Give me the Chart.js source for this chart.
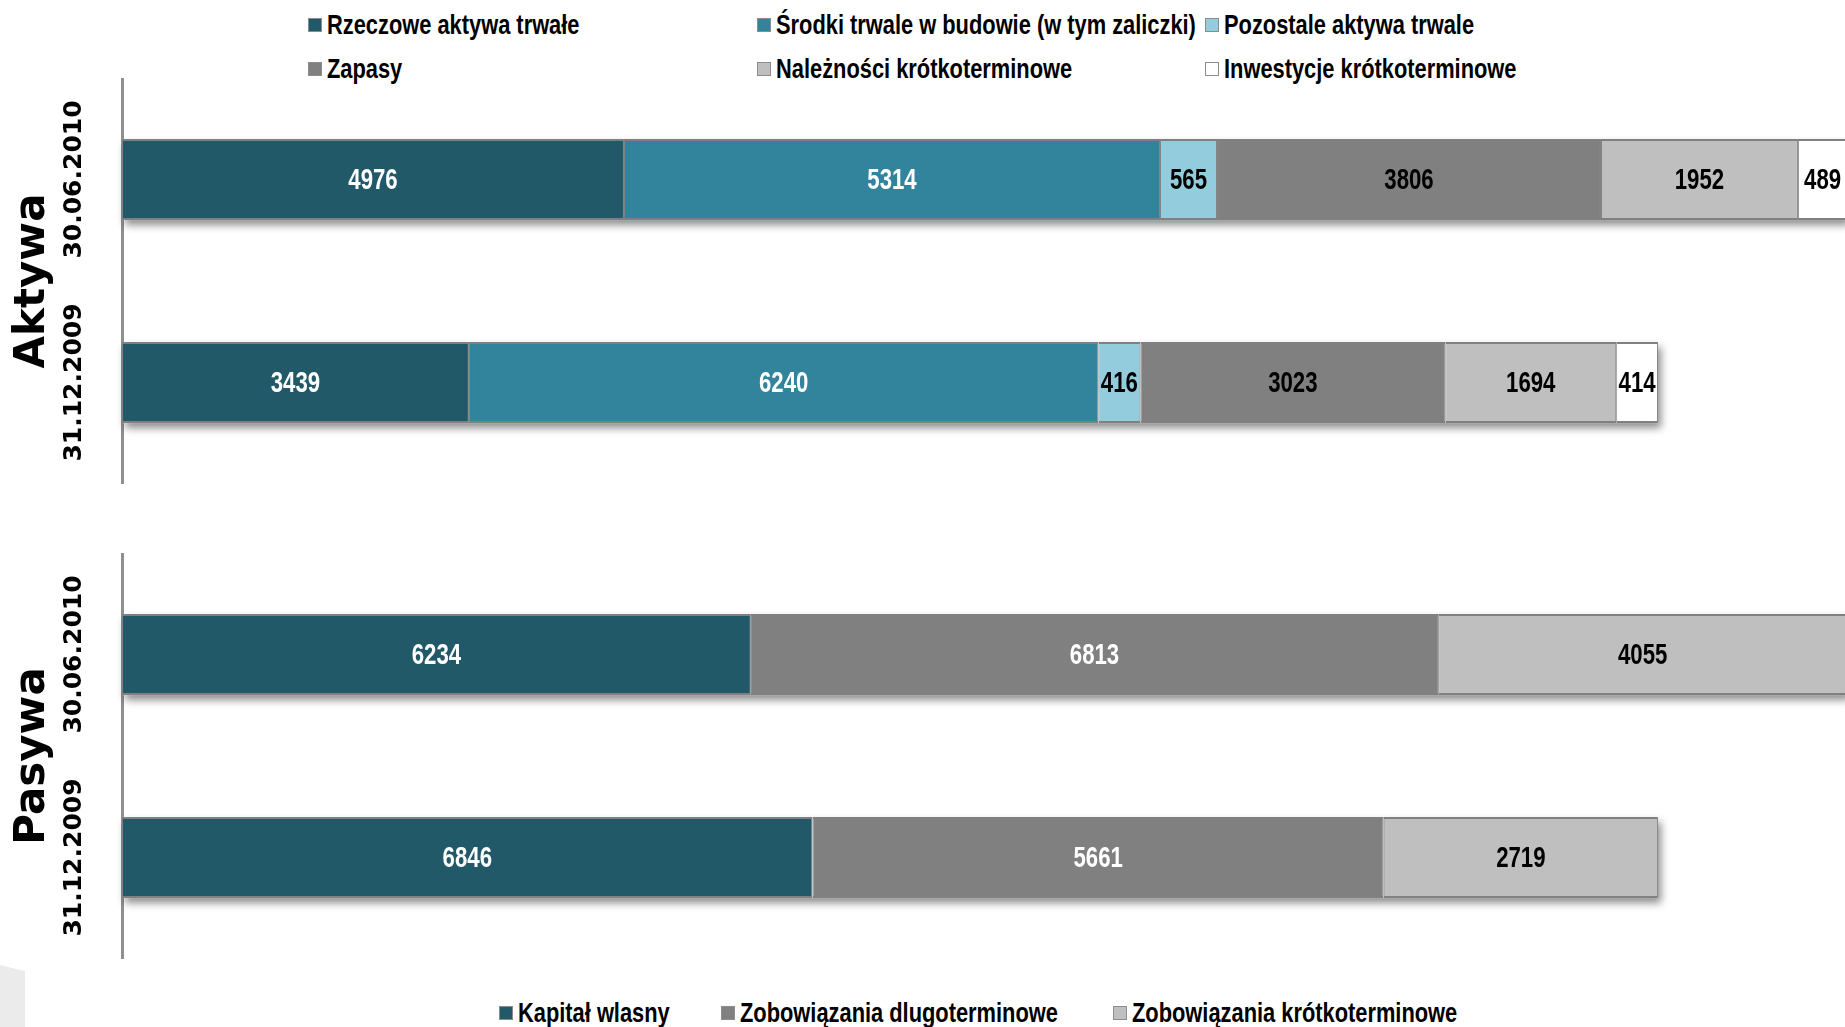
<!DOCTYPE html>
<html lang="pl">
<head>
<meta charset="utf-8">
<title>Aktywa i pasywa</title>
<script src="https://cdn.jsdelivr.net/npm/chart.js@4.4.1/dist/chart.umd.min.js"></script>
<style>
body {
  margin: 0;
  width: 1845px;
  height: 1027px;
  overflow: hidden;
  background: #fff;
  position: relative;
  font-family: 'Liberation Sans', Arial, sans-serif;
}
#chartTop { position: absolute; left: 0; top: 78px; }
#chartBottom { position: absolute; left: 0; top: 553px; }
.legend {
  position: absolute;
  display: grid;
  font-weight: bold;
  font-size: 28px;
  color: #000;
}
#legendTop { left: 308px; top: 3px; grid-template-columns: 449px 448px 400px; }
#legendBottom { left: 499px; top: 991px; grid-template-columns: 222px 392px 400px; }
.item { display: flex; align-items: center; height: 44px; white-space: nowrap; }
.box { width: 12px; height: 12px; border: 1px solid #8c8c8c; margin-right: 5px; flex: none; }
.txt { display: inline-block; transform: scaleX(0.78); transform-origin: left center; }
.corner {
  position: absolute; left: 0; top: 965px; width: 25px; height: 62px;
  background: #ebebeb;
  clip-path: polygon(0 0, 100% 10%, 100% 100%, 0 100%);
}
</style>
</head>
<body>
<div id="legendTop" class="legend"></div>
<canvas id="chartTop" width="1845" height="406"></canvas>
<canvas id="chartBottom" width="1845" height="406"></canvas>
<div id="legendBottom" class="legend"></div>
<div class="corner"></div>

<script>
// dane (mln zł)
const categories = ['30.06.2010', '31.12.2009'];

const aktywaLabels = [
  'Rzeczowe aktywa trwałe',
  'Środki trwale w budowie (w tym zaliczki)',
  'Pozostale aktywa trwale',
  'Zapasy',
  'Należności krótkoterminowe',
  'Inwestycje krótkoterminowe'
];
const rzeczowe = [4976, 3439];
const srodkiWBudowie = [5314, 6240];
const pozostale = [565, 416];
const zapasy = [3806, 3023];
const naleznosci = [1952, 1694];
const inwestycje = [489, 414];

const pasywaLabels = [
  'Kapitał wlasny',
  'Zobowiązania dlugoterminowe',
  'Zobowiązania krótkoterminowe'
];
const kapital = [6234, 6846];
const zobDlugo = [6813, 5661];
const zobKrotko = [4055, 2719];

const xMax = 17080;

function makeDataset(label, data, color, labelColor) {
  return {
    label: label,
    data: data,
    backgroundColor: color,
    borderColor: '#808080',
    borderWidth: { top: 2, bottom: 2, left: 1, right: 1 },
    borderSkipped: false,
    labelColor: labelColor
  };
}

// cien pod paskami
const barShadow = {
  id: 'barShadow',
  beforeDatasetsDraw(chart) {
    const ctx = chart.ctx;
    const metas = chart.getSortedVisibleDatasetMetas();
    for (let i = 0; i < chart.data.labels.length; i++) {
      let left = Infinity, right = -Infinity, top = 0, h = 0;
      metas.forEach(m => {
        const el = m.data[i];
        if (!el) return;
        const p = el.getProps(['x', 'y', 'base', 'height'], true);
        left = Math.min(left, p.x, p.base);
        right = Math.max(right, p.x, p.base);
        top = p.y - p.height / 2;
        h = p.height;
      });
      ctx.save();
      ctx.shadowColor = 'rgba(0,0,0,0.45)';
      ctx.shadowBlur = 8;
      ctx.shadowOffsetX = 3;
      ctx.shadowOffsetY = 5;
      ctx.fillStyle = '#fff';
      ctx.fillRect(left, top, right - left, h);
      ctx.restore();
    }
  }
};

// wartosci w srodku segmentow (waska czcionka -> skalowanie w poziomie)
const valueLabels = {
  id: 'valueLabels',
  afterDatasetsDraw(chart) {
    const ctx = chart.ctx;
    chart.data.datasets.forEach((ds, di) => {
      const meta = chart.getDatasetMeta(di);
      meta.data.forEach((el, i) => {
        const p = el.getProps(['x', 'y', 'base'], true);
        ctx.save();
        ctx.translate((p.x + p.base) / 2, p.y + 1);
        ctx.scale(0.74, 1);
        ctx.font = "bold 30px 'Liberation Sans', Arial, sans-serif";
        ctx.textAlign = 'center';
        ctx.textBaseline = 'middle';
        ctx.fillStyle = ds.labelColor;
        ctx.fillText(String(ds.data[i]), 0, 0);
        ctx.restore();
      });
    });
  }
};

// daty pionowo przy osi
const dateLabels = {
  id: 'dateLabels',
  afterDraw(chart) {
    const ctx = chart.ctx;
    const scale = chart.scales.y;
    ctx.save();
    ctx.font = "bold 25px 'DejaVu Sans', sans-serif";
    ctx.fillStyle = '#000';
    ctx.textAlign = 'center';
    ctx.textBaseline = 'middle';
    chart.data.labels.forEach((lab, i) => {
      const y = scale.getPixelForTick(i);
      ctx.save();
      ctx.translate(74, y);
      ctx.rotate(-Math.PI / 2);
      ctx.fillText(lab, 0, 0);
      ctx.restore();
    });
    ctx.restore();
  }
};

function makeOptions(title) {
  return {
    indexAxis: 'y',
    responsive: false,
    animation: false,
    layout: { padding: 0 },
    datasets: { bar: { categoryPercentage: 1, barPercentage: 0.4 } },
    scales: {
      x: { stacked: true, min: 0, max: xMax, display: false },
      y: {
        stacked: true,
        grid: { display: false },
        ticks: { display: false },
        border: { display: true, color: '#8f8f8f', width: 3 },
        title: {
          display: true,
          text: title,
          color: '#000',
          font: { family: "'DejaVu Sans', sans-serif", size: 42, weight: 'bold', lineHeight: 1 },
          padding: { top: 12, bottom: 0 }
        },
        afterFit(scale) { scale.width = 122; }
      }
    },
    plugins: {
      legend: { display: false },
      tooltip: { enabled: false }
    }
  };
}

const topChart = new Chart(document.getElementById('chartTop').getContext('2d'), {
  type: 'bar',
  data: {
    labels: categories,
    datasets: [
      makeDataset(aktywaLabels[0], rzeczowe, '#215968', '#fff'),
      makeDataset(aktywaLabels[1], srodkiWBudowie, '#31849b', '#fff'),
      makeDataset(aktywaLabels[2], pozostale, '#93cddd', '#000'),
      makeDataset(aktywaLabels[3], zapasy, '#808080', '#000'),
      makeDataset(aktywaLabels[4], naleznosci, '#bfbfbf', '#000'),
      makeDataset(aktywaLabels[5], inwestycje, '#ffffff', '#000')
    ]
  },
  options: makeOptions('Aktywa'),
  plugins: [barShadow, valueLabels, dateLabels]
});

const bottomChart = new Chart(document.getElementById('chartBottom').getContext('2d'), {
  type: 'bar',
  data: {
    labels: categories,
    datasets: [
      makeDataset(pasywaLabels[0], kapital, '#215968', '#fff'),
      makeDataset(pasywaLabels[1], zobDlugo, '#808080', '#fff'),
      makeDataset(pasywaLabels[2], zobKrotko, '#bfbfbf', '#000')
    ]
  },
  options: makeOptions('Pasywa'),
  plugins: [barShadow, valueLabels, dateLabels]
});

function buildLegend(chart, id) {
  const box = document.getElementById(id);
  chart.data.datasets.forEach(ds => {
    const item = document.createElement('div');
    item.className = 'item';
    const sw = document.createElement('span');
    sw.className = 'box';
    sw.style.background = ds.backgroundColor;
    const txt = document.createElement('span');
    txt.className = 'txt';
    txt.textContent = ds.label;
    item.appendChild(sw);
    item.appendChild(txt);
    box.appendChild(item);
  });
}
buildLegend(topChart, 'legendTop');
buildLegend(bottomChart, 'legendBottom');
</script>
</body>
</html>
